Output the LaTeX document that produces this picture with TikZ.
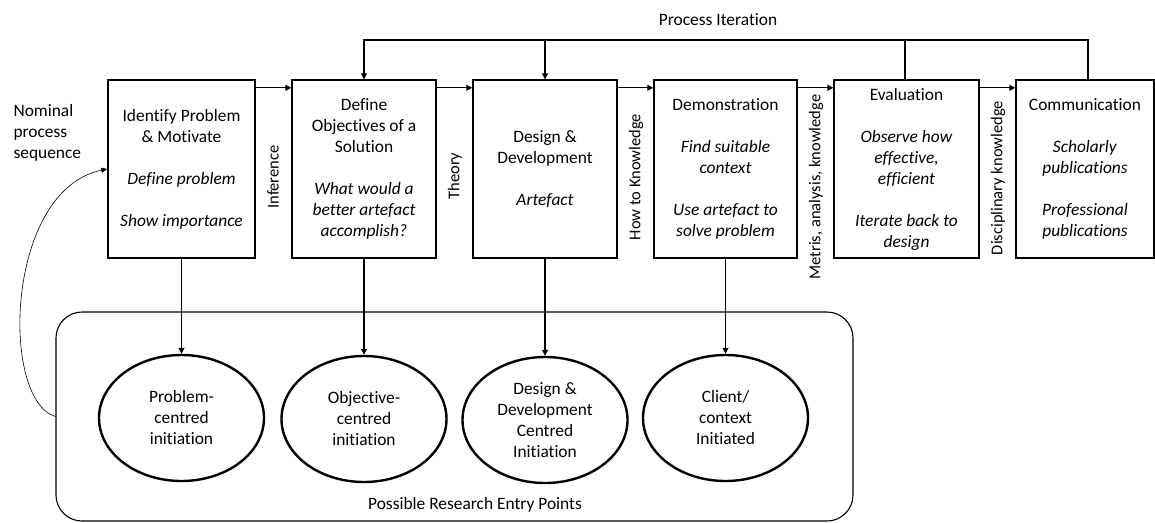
\documentclass[tikz,border=0pt]{standalone}
\usepackage{fontspec}
\setmainfont{Carlito}[Ligatures={NoCommon,NoRare}]
\usetikzlibrary{arrows.meta,shapes.geometric}

\begin{document}
\begin{tikzpicture}[x=1pt,y=-1pt,
  font=\fontsize{17.4}{21}\selectfont,
  stage/.style={draw, line width=1.4pt, minimum height=178pt, align=center, inner sep=0pt},
  entry/.style={draw, ellipse, line width=2.4pt, minimum width=165pt, minimum height=126pt, align=center, inner sep=0pt},
  flow/.style={line width=1.1pt, -{Triangle[length=6pt,width=6pt]}},
  link/.style={line width=1.1pt},
  side/.style={rotate=90, font=\fontsize{16.5}{20}\selectfont},
]
\useasboundingbox (0,0) rectangle (1155,522);

% process stages
\node[stage, minimum width=147pt] (b1) at (181.5,169)
  {Identify Problem\\ \& Motivate\\[21pt] \textit{Define problem}\\[21pt] \textit{Show importance}};
\node[stage, minimum width=144pt] (b2) at (364,169)
  {Define\\ Objectives of a\\ Solution\\[21pt] \textit{What would a}\\ \textit{better artefact}\\ \textit{accomplish?}};
\node[stage, minimum width=144pt] (b3) at (545,169)
  {Design \&\\ Development\\[21pt] \textit{Artefact}};
\node[stage, minimum width=143pt] (b4) at (725.5,169)
  {Demonstration\\[21pt] \textit{Find suitable}\\ \textit{context}\\[21pt] \textit{Use artefact to}\\ \textit{solve problem}};
\node[stage, minimum width=145pt] (b5) at (906.5,169)
  {Evaluation\\[21pt] \textit{Observe how}\\ \textit{effective,}\\ \textit{efficient}\\[21pt] \textit{Iterate back to}\\ \textit{design}};
\node[stage, minimum width=138pt] (b6) at (1085,169)
  {Communication\\[21pt] \textit{Scholarly}\\ \textit{publications}\\[21pt] \textit{Professional}\\ \textit{publications}};

% nominal sequence arrows
\draw[flow] ([yshift=-8.5pt]b1.north east) -- ([yshift=-8.5pt]b2.north west);
\draw[flow] ([yshift=-8.5pt]b2.north east) -- ([yshift=-8.5pt]b3.north west);
\draw[flow] ([yshift=-8.5pt]b3.north east) -- ([yshift=-8.5pt]b4.north west);
\draw[flow] ([yshift=-8.5pt]b4.north east) -- ([yshift=-8.5pt]b5.north west);
\draw[flow] ([yshift=-8.5pt]b5.north east) -- ([yshift=-8.5pt]b6.north west);

% labels on the transitions
\node[side] (t1) at (273,177) {Inference};
\node[side] (t2) at (455,176) {Theory};
\node[side] (t3) at (636,177) {How to Knowledge};
\node[side] (t4) at (816,187) {Metris, analysis, knowledge};
\node[side] (t5) at (998,178) {Disciplinary knowledge};

% process iteration loop
\coordinate (iter) at (0,40);
\draw[flow] ([xshift=3pt]b6.north) |- (iter -| b2.north) -- (b2.north);
\draw[link] ([xshift=-1.5pt]b5.north) -- ([xshift=-1.5pt]b5.north |- iter);
\draw[flow] (b3.north |- iter) -- (b3.north);
\node (iterlabel) at (718,20) {Process Iteration};

% research entry points
\node[draw, rounded corners=26pt, line width=1.1pt, minimum width=797pt, minimum height=209pt] (zone) at (454.5,416.5) {};
\node (zonelabel) at (475,505) {Possible Research Entry Points};

\node[entry] (e1) at (181.5,418) {Problem-\\ centred\\ initiation};
\node[entry] (e2) at (364,419) {Objective-\\ centred\\ initiation};
\node[entry] (e3) at (545,420) {Design \&\\ Development\\ Centred\\ Initiation};
\node[entry] (e4) at (725.5,418) {Client/\\ context\\ Initiated};

\draw[flow] (b1.south) -- (e1.north);
\draw[flow] (b2.south) -- (e2.north);
\draw[flow] (b3.south) -- (e3.north);
\draw[flow] (b4.south) -- (e4.north);

% nominal process sequence
\node[align=left, anchor=west] (nominal) at (10,133) {Nominal\\ process\\ sequence};
\draw[line width=0.6pt, -{Triangle[length=6pt,width=5pt]}] (zone.west) .. controls (0,400) and (5,190) .. (b1.west);
\end{tikzpicture}
\end{document}
